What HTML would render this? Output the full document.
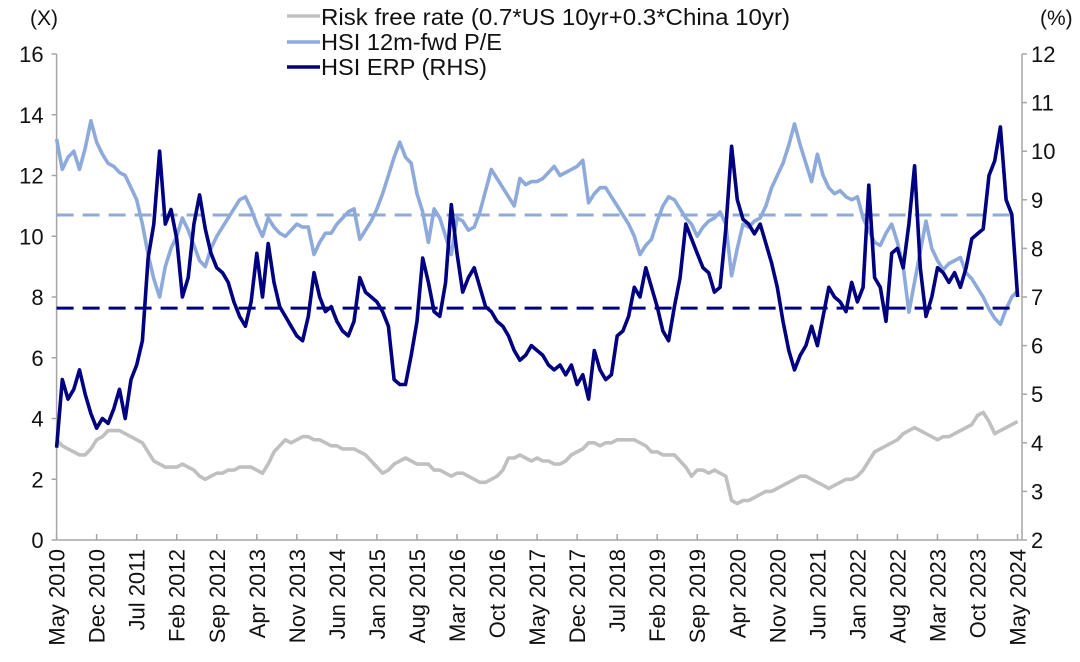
<!DOCTYPE html>
<html><head><meta charset="utf-8"><style>
html,body{margin:0;padding:0;background:#fff;}
svg{display:block;font-family:"Liberation Sans",sans-serif;}
</style></head><body>
<svg id="chart" width="1080" height="662" viewBox="0 0 1080 662" xmlns="http://www.w3.org/2000/svg">
<g id="axes"></g>
<g id="series"></g>
<g id="legend">
  <line x1="287" y1="16" x2="320" y2="16" stroke="#c0c0c0" stroke-width="3.5"/>
  <text x="321" y="25" font-size="23" fill="#111" textLength="469" lengthAdjust="spacingAndGlyphs">Risk free rate (0.7*US 10yr+0.3*China 10yr)</text>
  <line x1="287" y1="42" x2="320" y2="42" stroke="#8eaadb" stroke-width="3.5"/>
  <text x="321" y="50" font-size="23" fill="#111" textLength="181" lengthAdjust="spacingAndGlyphs">HSI 12m-fwd P/E</text>
  <line x1="287" y1="67" x2="320" y2="67" stroke="#000080" stroke-width="3.5"/>
  <text x="321" y="75" font-size="23" fill="#111" textLength="166" lengthAdjust="spacingAndGlyphs">HSI ERP (RHS)</text>
</g>
<text x="30" y="25" font-size="21" fill="#111">(X)</text>
<text x="1040" y="25" font-size="21" fill="#111">(%)</text>
</svg>
<script>
const leftTicks = [0,2,4,6,8,10,12,14,16];
const rightTicks = [2,3,4,5,6,7,8,9,10,11,12];
const xLabels = ["May 2010","Dec 2010","Jul 2011","Feb 2012","Sep 2012","Apr 2013","Nov 2013","Jun 2014","Jan 2015","Aug 2015","Mar 2016","Oct 2016","May 2017","Dec 2017","Jul 2018","Feb 2019","Sep 2019","Apr 2020","Nov 2020","Jun 2021","Jan 2022","Aug 2022","Mar 2023","Oct 2023","May 2024"];
const peSeries = [13.2,12.2,12.6,12.8,12.2,12.9,13.8,13.1,12.7,12.4,
12.3,12.1,12.0,11.6,11.2,10.4,9.4,8.6,8.0,9.0,
9.6,10.0,10.6,10.2,9.7,9.2,9.0,9.6,10.0,10.3,
10.6,10.9,11.2,11.3,10.9,10.4,10.0,10.6,10.3,10.1,
10.0,10.2,10.4,10.3,10.3,9.4,9.8,10.1,10.1,10.4,
10.6,10.8,10.9,9.9,10.2,10.5,10.9,11.4,12.0,12.6,
13.1,12.6,12.4,11.4,10.8,9.8,10.9,10.6,10.0,9.4,
10.6,10.5,10.2,10.3,10.8,11.5,12.2,11.9,11.6,11.3,
11.0,11.9,11.7,11.8,11.8,11.9,12.1,12.3,12.0,12.1,
12.2,12.3,12.5,11.1,11.4,11.6,11.6,11.3,11.0,10.7,
10.4,10.0,9.4,9.7,9.9,10.5,11.0,11.3,11.2,10.9,
10.6,10.4,10.0,10.3,10.5,10.6,10.8,10.4,8.7,9.6,
10.4,10.3,10.5,10.6,11.0,11.6,12.0,12.4,13.0,13.7,
13.0,12.4,11.8,12.7,12.0,11.6,11.4,11.5,11.3,11.2,
11.3,10.6,10.2,9.8,9.7,10.1,10.4,9.8,9.0,7.5,
8.5,9.5,10.5,9.6,9.2,8.9,9.1,9.2,9.3,8.8,
8.6,8.3,8.0,7.6,7.3,7.1,7.6,8.0,8.2];
const erpSeries = [3.9,5.3,4.9,5.1,5.5,5.0,4.6,4.3,4.5,4.4,
4.7,5.1,4.5,5.3,5.6,6.1,7.8,8.5,10.0,8.5,
8.8,8.2,7.0,7.4,8.5,9.1,8.4,7.9,7.6,7.5,
7.3,6.9,6.6,6.4,6.9,7.9,7.0,8.1,7.3,6.8,
6.6,6.4,6.2,6.1,6.6,7.5,7.0,6.7,6.8,6.5,
6.3,6.2,6.5,7.4,7.1,7.0,6.9,6.7,6.4,5.3,
5.2,5.2,5.8,6.5,7.8,7.3,6.7,6.6,7.3,8.9,
7.9,7.1,7.4,7.6,7.2,6.8,6.7,6.5,6.4,6.2,
5.9,5.7,5.8,6.0,5.9,5.8,5.6,5.5,5.6,5.4,
5.6,5.2,5.4,4.9,5.9,5.5,5.3,5.4,6.2,6.3,
6.6,7.2,7.0,7.6,7.2,6.8,6.3,6.1,6.8,7.4,
8.5,8.2,7.9,7.6,7.5,7.1,7.2,8.4,10.1,9.0,
8.6,8.5,8.3,8.5,8.1,7.7,7.2,6.5,5.9,5.5,
5.8,6.0,6.4,6.0,6.6,7.2,7.0,6.9,6.7,7.3,
6.9,7.2,9.3,7.4,7.2,6.5,7.9,8.0,7.6,8.5,
9.7,7.6,6.6,7.0,7.6,7.5,7.3,7.5,7.2,7.6,
8.2,8.3,8.4,9.5,9.8,10.5,9.0,8.7,7.0];
const rfSeries = [3.3,3.1,3.0,2.9,2.8,2.8,3.0,3.3,3.4,3.6,
3.6,3.6,3.5,3.4,3.3,3.2,2.9,2.6,2.5,2.4,
2.4,2.4,2.5,2.4,2.3,2.1,2.0,2.1,2.2,2.2,
2.3,2.3,2.4,2.4,2.4,2.3,2.2,2.5,2.9,3.1,
3.3,3.2,3.3,3.4,3.4,3.3,3.3,3.2,3.1,3.1,
3.0,3.0,3.0,2.9,2.8,2.6,2.4,2.2,2.3,2.5,
2.6,2.7,2.6,2.5,2.5,2.5,2.3,2.3,2.2,2.1,
2.2,2.2,2.1,2.0,1.9,1.9,2.0,2.1,2.3,2.7,
2.7,2.8,2.7,2.6,2.7,2.6,2.6,2.5,2.5,2.6,
2.8,2.9,3.0,3.2,3.2,3.1,3.2,3.2,3.3,3.3,
3.3,3.3,3.2,3.1,2.9,2.9,2.8,2.8,2.8,2.6,
2.4,2.1,2.3,2.3,2.2,2.3,2.2,2.1,1.3,1.2,
1.3,1.3,1.4,1.5,1.6,1.6,1.7,1.8,1.9,2.0,
2.1,2.1,2.0,1.9,1.8,1.7,1.8,1.9,2.0,2.0,
2.1,2.3,2.6,2.9,3.0,3.1,3.2,3.3,3.5,3.6,
3.7,3.6,3.5,3.4,3.3,3.4,3.4,3.5,3.6,3.7,
3.8,4.1,4.2,3.9,3.5,3.6,3.7,3.8,3.9];
const peAverage = [10.7];
const erpAverage = [6.77];

const NS = "http://www.w3.org/2000/svg";
const X0 = 56.6, MONTH_PX = 5.72, YBOT = 540, YTOP = 54, XR = 1022;
function xScale(m){ return X0 + m*MONTH_PX; }
function yLeft(v){ return YBOT - (v-0)/16*(YBOT-YTOP); }
function yRight(v){ return YBOT - (v-2)/10*(YBOT-YTOP); }
function mk(tag, attrs){ const e=document.createElementNS(NS,tag); for(const k in attrs) e.setAttribute(k,attrs[k]); return e; }

const axes = document.getElementById('axes');
const series = document.getElementById('series');
const AX = "#a6a6a6";

let l = mk('line',{x1:X0,y1:YTOP,x2:X0,y2:YBOT,stroke:AX,'stroke-width':1.5});


axes.appendChild(l);
l = mk('line',{x1:XR,y1:YTOP,x2:XR,y2:YBOT,stroke:AX,'stroke-width':1.5});


axes.appendChild(l);
l = mk('line',{x1:X0,y1:YBOT,x2:XR,y2:YBOT,stroke:AX,'stroke-width':1.5});


axes.appendChild(l);

leftTicks.forEach(v=>{
  const y=yLeft(v);
  const t=mk('line',{x1:X0-5,y1:y,x2:X0,y2:y,stroke:AX,'stroke-width':1.5});
  
  
  axes.appendChild(t);
  const tx=mk('text',{x:X0-13,y:y+8,'font-size':22,'text-anchor':'end',fill:'#111'});
  tx.textContent=v;
  
  
  axes.appendChild(tx);
});
rightTicks.forEach(v=>{
  const y=yRight(v);
  const t=mk('line',{x1:XR,y1:y,x2:XR+5,y2:y,stroke:AX,'stroke-width':1.5});
  
  
  axes.appendChild(t);
  const tx=mk('text',{x:XR+9,y:y+8,'font-size':22,fill:'#111'});
  tx.textContent=v;
  
  
  axes.appendChild(tx);
});
xLabels.forEach((lab,i)=>{
  const x=xScale(i*7);
  const t=mk('line',{x1:x,y1:YBOT,x2:x,y2:YBOT-6,stroke:AX,'stroke-width':1.5});
  
  
  axes.appendChild(t);
  const tx=mk('text',{x:0,y:0,'font-size':22,'text-anchor':'end',fill:'#111',transform:`translate(${x+8},${YBOT+9}) rotate(-90)`});
  tx.textContent=lab;
  
  
  axes.appendChild(tx);
});

function addLine(vals, yf, color, name){
  const d = vals.map((v,i)=>(i?'L':'M')+xScale(i).toFixed(1)+' '+yf(v).toFixed(1)).join(' ');
  const p = mk('path',{d:d,fill:'none',stroke:color,'stroke-width':3.6,'stroke-linejoin':'round'});
  
  
  series.appendChild(p);
}
function addAvg(v, yf, color, name){
  const y=yf(v);
  const p = mk('line',{x1:X0,y1:y,x2:xScale(168),y2:y,stroke:color,'stroke-width':3,'stroke-dasharray':'17 9'});
  
  
  series.appendChild(p);
}
addLine(rfSeries, yLeft, '#c0c0c0', 'risk-free-rate-line');
addLine(peSeries, yLeft, '#8eaadb', 'pe-line');
addAvg(peAverage[0], yLeft, '#8eaadb', 'pe-average-line');
addLine(erpSeries, yRight, '#000080', 'erp-line');
addAvg(erpAverage[0], yRight, '#000080', 'erp-average-line');
</script>
</body></html>
